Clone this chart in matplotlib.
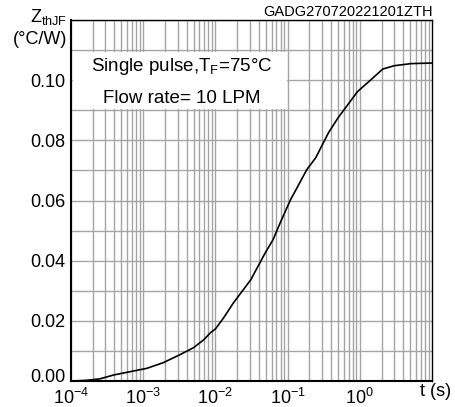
import numpy as np
from matplotlib import pyplot as plt
from matplotlib.patches import Rectangle
from matplotlib.ticker import LogLocator, MultipleLocator, NullFormatter
from matplotlib.transforms import ScaledTranslation

plt.rcParams['font.family'] = ['Liberation Sans', 'DejaVu Sans']
plt.rcParams['mathtext.fontset'] = 'custom'
plt.rcParams['mathtext.rm'] = 'Liberation Sans'
plt.rcParams['mathtext.it'] = 'Liberation Sans'

t = [1e-4, 1.6e-4, 2.5e-4, 3.9e-4, 6.6e-4, 1.12e-3, 1.9e-3, 3.2e-3, 5e-3, 6.9e-3,
     8.5e-3, 1.0e-2, 1.3e-2, 1.77e-2, 3.1e-2, 4.9e-2, 6.3e-2, 7.9e-2, 0.11, 0.185,
     0.245, 0.37, 0.50, 0.68, 0.93, 1.42, 2.08, 3.0, 5.1, 10.0]
zth = [0.0, 0.0002, 0.0007, 0.0020, 0.0031, 0.0042, 0.0061, 0.0087, 0.0111, 0.0137,
       0.0160, 0.0173, 0.0210, 0.0259, 0.0337, 0.0426, 0.0470, 0.0526, 0.0603, 0.0703,
       0.0742, 0.0826, 0.0875, 0.0918, 0.0962, 0.1001, 0.1037, 0.1048, 0.1055, 0.1057]

xticks = [1e-4, 1e-3, 1e-2, 1e-1, 1e0]
xticklabels = [r'$10^{-4}$', r'$10^{-3}$', r'$10^{-2}$', r'$10^{-1}$', r'$10^{0}$']
yticks = [0.0, 0.02, 0.04, 0.06, 0.08, 0.10]
yticklabels = ['0.00', '0.02', '0.04', '0.06', '0.08', '0.10']

fig = plt.figure(figsize=(4.55, 4.07), dpi=100)
ax = fig.add_axes([71/455, 26/407, 361/455, 361/407])
ax.set_xscale('log')
ax.set_xlim(1e-4, 10)
ax.set_ylim(0, 0.12)

ax.xaxis.set_minor_locator(LogLocator(base=10, subs=np.arange(2, 10)))
ax.xaxis.set_minor_formatter(NullFormatter())
ax.yaxis.set_minor_locator(MultipleLocator(0.01))
ax.grid(True, which='both', color='#a4a4a4', lw=1)
ax.set_axisbelow(True)

ax.set_xticks(xticks)
ax.set_xticklabels(xticklabels, fontsize=13)
ax.set_yticks(yticks)
ax.set_yticklabels(yticklabels, fontsize=13)
ax.tick_params(which='both', length=0, pad=4)
ax.tick_params(axis='x', pad=5)
# lift the 0.00 label a little, as in the original
lab0 = ax.get_yticklabels()[0]
lab0.set_transform(lab0.get_transform() + ScaledTranslation(0, 5/100, fig.dpi_scale_trans))

# white box hiding the grid behind the condition text
ax.add_patch(Rectangle((1.05e-4, 0.0905), 0.0985 - 1.05e-4, 0.019, facecolor='white',
                       edgecolor='none', zorder=1.5))
ax.text(3.4e-3, 0.1047, r'Single pulse,T$_\mathregular{F}$=75°C', fontsize=13.5,
        ha='center', va='center', zorder=3)
ax.text(3.4e-3, 0.0938, 'Flow rate= 10 LPM', fontsize=13.5, ha='center', va='center', zorder=3)

ax.plot(t, zth, color='black', lw=1.2, zorder=4)

for s in ax.spines.values():
    s.set_color('black')
    s.set_linewidth(1)
ax.spines['left'].set_linewidth(1.5)
ax.spines['bottom'].set_linewidth(1.5)

fig.text(67/455, 1 - 17/407, r'Z$_\mathregular{thJF}$', fontsize=13, ha='right', va='center')
fig.text(67/455, 1 - 40/407, '(°C/W)', fontsize=13, ha='right', va='center')
fig.text(433/455, 1 - 19/407, 'GADG270720221201ZTH', fontsize=10.5, ha='right', va='bottom')
fig.text(436/455, 1 - 391/407, 't (s)', fontsize=13, ha='center', va='center')

fig.savefig('out.png', dpi=100)
